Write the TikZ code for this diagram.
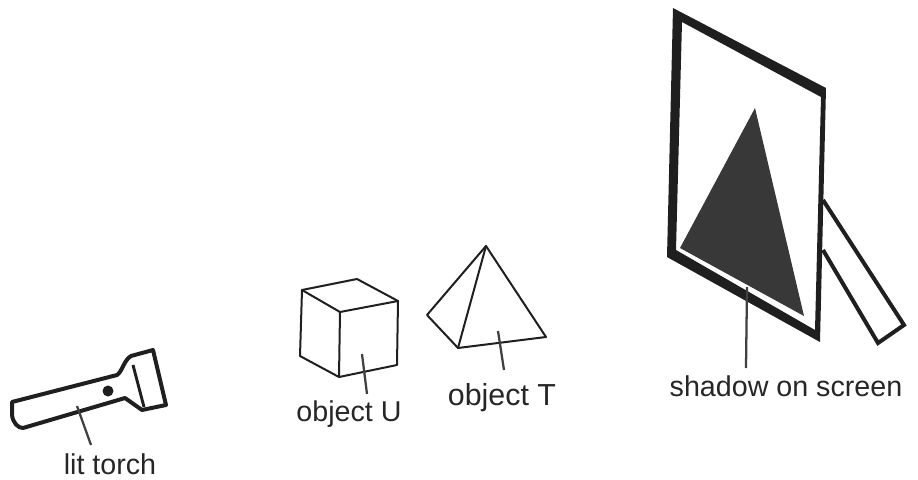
\documentclass[tikz,border=0pt]{standalone}
\usepackage{fontspec}
\setmainfont{Liberation Sans}
\definecolor{ink}{gray}{0.12}
\definecolor{leadc}{gray}{0.25}
\definecolor{shadowgrey}{gray}{0.22}
\tikzset{
  x=0.75pt,y=-0.75pt,
  thick outline/.style={draw=ink,line width=3pt,line join=round,line cap=round},
  thin outline/.style={draw=ink,line width=1.5pt,line join=round,line cap=round},
  leader/.style={draw=leadc,line width=1.7pt},
  lbl/.style={inner sep=0pt,text=black!85,font=\fontsize{21.5}{24}\selectfont},
}
\begin{document}
\begin{tikzpicture}
\useasboundingbox (0,0) rectangle (918,479);
% Torch
\draw[thick outline] (12,402) -- (117,375) .. controls (122,372) and (124,360) .. (131,356) -- (153,350) -- (166,405) -- (142,410) -- (125,398) -- (23,428) .. controls (18,428) and (13,423) .. (12,415) -- cycle;
\draw[draw=ink,line width=2.2pt] (133,365) -- (144,407);
\fill[ink] (108,391) circle (5.5);
\node[lbl] (torchlabel) at (110,464) {lit torch};
\coordinate (torchA) at (77,406);
\coordinate (torchB) at (91,445);
\draw[leader] (torchA) -- (torchB);
% Cube
\draw[thin outline] (302,290) -- (357,279) -- (398,301) -- (397,365) -- (339,377) -- (300,356) -- cycle;
\draw[thin outline] (302,290) -- (340,312) -- (398,301);
\draw[thin outline] (340,312) -- (339,377);
\node[lbl] (ulabel) at (349,414) {object U};
\coordinate (uA) at (362,354);
\coordinate (uB) at (367,394);
\draw[leader] (uA) -- (uB);
% Pyramid
\draw[thin outline] (486,246) -- (427,315) -- (458,348) -- (546,337) -- cycle;
\draw[thin outline] (486,246) -- (458,348);
\node[lbl,font=\fontsize{22.8}{25}\selectfont] (tlabel) at (502,398) {object T};
\coordinate (tA) at (498,331);
\coordinate (tB) at (504,370);
\draw[leader] (tA) -- (tB);
% Screen stand
\draw[draw=ink,line width=3pt,line join=miter] (823,200) -- (904,325) -- (878,343) -- (823,250);
% Screen frame
\fill[ink,even odd rule] (673,8) -- (826,88) -- (820,342) -- (667,257) -- cycle
  (682,22) -- (821,97) -- (815,330) -- (676,250) -- cycle;
% Shadow
\fill[shadowgrey] (755,108) -- (680,248) -- (804,316) -- cycle;
\node[lbl] (slabel) at (786,386) {shadow on screen};
\coordinate (sA) at (747,287);
\coordinate (sB) at (746,368);
\draw[leader] (sA) -- (sB);
\end{tikzpicture}
\end{document}
